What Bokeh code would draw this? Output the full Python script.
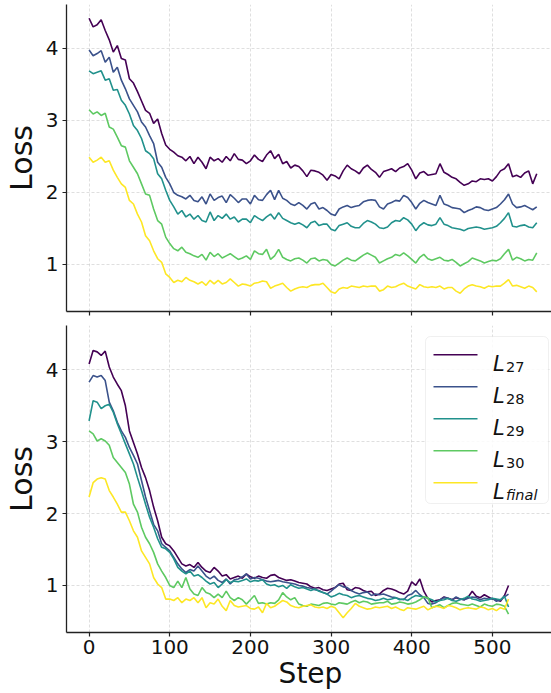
from bokeh.plotting import figure
from bokeh.layouts import column
from bokeh.models import FixedTicker, BoxAnnotation, Label, Range1d
from bokeh.embed import file_html
from bokeh.resources import INLINE

# ---------------- data ----------------
STEP_INTERVAL = 5
series_names = ["L27", "L28", "L29", "L30", "Lfinal"]
legend_main = ["L", "L", "L", "L", "L"]
legend_sub = ["27", "28", "29", "30", "final"]
colors = ["#440154", "#3b528b", "#21918c", "#5ec962", "#fde725"]
x_ticks = [0, 100, 200, 300, 400, 500]
y_ticks = [1, 2, 3, 4]

# top panel (steps 0..555)
top_L27 = [4.42, 4.30, 4.33, 4.40, 4.25, 4.12, 3.95, 4.04, 3.86, 3.84, 3.58, 3.52, 3.40, 3.27, 3.14, 3.10,
           2.96, 3.02, 2.82, 2.66, 2.60, 2.56, 2.51, 2.49, 2.44, 2.50, 2.40, 2.49, 2.42, 2.33, 2.49, 2.44,
           2.47, 2.42, 2.50, 2.44, 2.54, 2.46, 2.45, 2.40, 2.44, 2.52, 2.46, 2.43, 2.52, 2.58, 2.47, 2.53,
           2.40, 2.43, 2.34, 2.38, 2.36, 2.30, 2.22, 2.31, 2.30, 2.28, 2.24, 2.17, 2.25, 2.23, 2.19, 2.30,
           2.38, 2.33, 2.30, 2.26, 2.34, 2.38, 2.32, 2.28, 2.21, 2.29, 2.31, 2.33, 2.29, 2.34, 2.36, 2.40,
           2.31, 2.19, 2.27, 2.29, 2.24, 2.25, 2.26, 2.40, 2.28, 2.25, 2.21, 2.19, 2.14, 2.10, 2.12, 2.16,
           2.15, 2.19, 2.18, 2.19, 2.16, 2.22, 2.30, 2.33, 2.40, 2.22, 2.24, 2.21, 2.27, 2.30, 2.12, 2.26]
top_L28 = [3.98, 3.90, 3.93, 3.97, 3.81, 3.88, 3.67, 3.74, 3.56, 3.44, 3.30, 3.21, 3.12, 2.98, 2.91, 2.79,
           2.68, 2.42, 2.35, 2.21, 2.12, 2.00, 1.96, 1.94, 1.91, 1.96, 1.89, 1.87, 1.94, 1.84, 1.98, 1.89,
           1.93, 1.95, 1.86, 1.97, 1.92, 1.86, 1.91, 1.91, 1.84, 1.96, 1.90, 1.89, 1.97, 2.03, 1.90, 2.03,
           1.92, 1.89, 1.84, 1.82, 1.86, 1.82, 1.77, 1.84, 1.86, 1.77, 1.79, 1.75, 1.70, 1.68, 1.77, 1.80,
           1.82, 1.79, 1.81, 1.82, 1.87, 1.89, 1.90, 1.89, 1.80, 1.77, 1.84, 1.86, 1.89, 1.88, 1.96, 1.93,
           1.86, 1.77, 1.85, 1.89, 1.86, 1.84, 1.82, 1.96, 1.84, 1.82, 1.79, 1.78, 1.77, 1.72, 1.75, 1.77,
           1.80, 1.79, 1.76, 1.75, 1.77, 1.79, 1.84, 1.90, 1.98, 1.84, 1.79, 1.80, 1.82, 1.79, 1.76, 1.80]
top_L29 = [3.69, 3.65, 3.67, 3.69, 3.56, 3.58, 3.42, 3.43, 3.28, 3.21, 3.09, 2.93, 2.86, 2.75, 2.58, 2.54,
           2.47, 2.26, 2.19, 2.03, 1.89, 1.80, 1.70, 1.75, 1.66, 1.70, 1.63, 1.68, 1.61, 1.59, 1.73, 1.61,
           1.68, 1.64, 1.70, 1.63, 1.66, 1.59, 1.63, 1.63, 1.58, 1.68, 1.64, 1.61, 1.66, 1.70, 1.63, 1.72,
           1.64, 1.61, 1.58, 1.56, 1.58, 1.55, 1.51, 1.58, 1.60, 1.54, 1.56, 1.56, 1.49, 1.47, 1.54, 1.56,
           1.58, 1.53, 1.51, 1.51, 1.57, 1.61, 1.59, 1.56, 1.51, 1.50, 1.52, 1.58, 1.61, 1.60, 1.65, 1.62,
           1.56, 1.47, 1.54, 1.58, 1.55, 1.54, 1.56, 1.65, 1.56, 1.54, 1.51, 1.50, 1.49, 1.47, 1.50, 1.51,
           1.52, 1.51, 1.49, 1.50, 1.51, 1.53, 1.58, 1.64, 1.72, 1.53, 1.52, 1.54, 1.55, 1.52, 1.51, 1.58]
top_L30 = [3.15, 3.09, 3.12, 3.07, 3.10, 2.91, 2.88, 2.77, 2.65, 2.63, 2.44, 2.35, 2.26, 2.12, 1.98, 1.96,
           1.77, 1.61, 1.56, 1.38, 1.29, 1.22, 1.19, 1.24, 1.17, 1.15, 1.12, 1.10, 1.14, 1.06, 1.17, 1.11,
           1.15, 1.09, 1.12, 1.15, 1.11, 1.07, 1.09, 1.12, 1.07, 1.19, 1.15, 1.14, 1.21, 1.07, 1.12, 1.21,
           1.10, 1.07, 1.05, 1.08, 1.09, 1.06, 1.02, 1.08, 1.09, 1.05, 1.07, 1.06, 1.00, 0.98, 1.02, 1.06,
           1.09, 1.06, 1.05, 1.09, 1.13, 1.16, 1.13, 1.10, 1.02, 1.05, 1.08, 1.10, 1.14, 1.12, 1.16, 1.12,
           1.07, 1.02, 1.10, 1.14, 1.08, 1.06, 1.08, 1.10, 1.06, 1.05, 1.07, 1.03, 0.98, 1.01, 1.04, 1.09,
           1.07, 1.05, 1.02, 1.04, 1.06, 1.05, 1.08, 1.15, 1.21, 1.06, 1.10, 1.08, 1.05, 1.07, 1.06, 1.16]
top_Lfinal = [2.49, 2.42, 2.45, 2.49, 2.42, 2.44, 2.31, 2.21, 2.12, 2.07, 1.89, 1.84, 1.70, 1.59, 1.40, 1.33,
              1.19, 1.08, 1.03, 0.87, 0.82, 0.75, 0.78, 0.76, 0.82, 0.78, 0.76, 0.73, 0.76, 0.71, 0.78, 0.73,
              0.78, 0.73, 0.75, 0.80, 0.75, 0.70, 0.73, 0.72, 0.70, 0.74, 0.75, 0.77, 0.76, 0.67, 0.70, 0.72,
              0.74, 0.68, 0.63, 0.66, 0.68, 0.69, 0.68, 0.71, 0.72, 0.72, 0.74, 0.68, 0.62, 0.60, 0.66, 0.68,
              0.67, 0.70, 0.69, 0.68, 0.70, 0.69, 0.70, 0.70, 0.63, 0.65, 0.70, 0.68, 0.69, 0.72, 0.74, 0.70,
              0.68, 0.66, 0.72, 0.69, 0.68, 0.69, 0.68, 0.70, 0.66, 0.68, 0.68, 0.63, 0.60, 0.66, 0.70, 0.72,
              0.70, 0.69, 0.67, 0.70, 0.69, 0.70, 0.70, 0.74, 0.79, 0.70, 0.71, 0.69, 0.67, 0.70, 0.68, 0.62]

# bottom panel (steps 0..520)
bot_L27 = [4.08, 4.27, 4.25, 4.20, 4.26, 4.04, 3.90, 3.80, 3.71, 3.50, 3.15, 2.99, 2.83, 2.64, 2.50, 2.32,
           2.09, 1.90, 1.67, 1.58, 1.55, 1.48, 1.39, 1.30, 1.27, 1.29, 1.25, 1.32, 1.25, 1.20, 1.18, 1.25,
           1.20, 1.13, 1.15, 1.09, 1.11, 1.13, 1.10, 1.16, 1.12, 1.10, 1.13, 1.11, 1.10, 1.14, 1.15, 1.11,
           1.09, 1.07, 1.08, 1.06, 1.04, 1.03, 1.02, 0.98, 0.96, 0.97, 0.94, 0.93, 0.95, 0.97, 1.02, 1.03,
           0.94, 0.93, 0.97, 0.96, 0.93, 0.91, 0.92, 0.86, 0.88, 0.93, 0.96, 0.95, 0.93, 0.90, 0.88, 0.92,
           1.05, 1.00, 1.09, 0.92, 0.82, 0.77, 0.79, 0.80, 0.84, 0.82, 0.80, 0.83, 0.81, 0.80, 0.84, 0.92,
           0.85, 0.83, 0.87, 0.84, 0.81, 0.80, 0.78, 0.86, 1.00]
bot_L28 = [3.83, 3.92, 3.90, 3.92, 3.85, 3.55, 3.43, 3.27, 3.15, 3.06, 2.92, 2.81, 2.69, 2.46, 2.23, 2.04,
           1.85, 1.76, 1.58, 1.53, 1.48, 1.39, 1.30, 1.23, 1.18, 1.22, 1.20, 1.27, 1.20, 1.13, 1.09, 1.13,
           1.07, 1.04, 1.09, 1.02, 1.08, 1.09, 1.12, 1.16, 1.09, 1.11, 1.10, 1.08, 1.06, 1.05, 1.06, 1.07,
           1.05, 1.04, 1.03, 1.02, 1.00, 0.99, 0.97, 0.96, 0.94, 0.93, 0.90, 0.88, 0.92, 0.97, 1.01, 0.98,
           0.97, 0.93, 0.90, 0.88, 0.90, 0.91, 0.86, 0.88, 0.87, 0.88, 0.86, 0.84, 0.83, 0.81, 0.80, 0.86,
           0.88, 0.93, 0.87, 0.83, 0.75, 0.74, 0.76, 0.80, 0.83, 0.82, 0.80, 0.84, 0.81, 0.80, 0.82, 0.84,
           0.83, 0.80, 0.82, 0.81, 0.82, 0.78, 0.80, 0.84, 0.88]
bot_L29 = [3.29, 3.57, 3.55, 3.46, 3.50, 3.52, 3.41, 3.25, 3.11, 2.97, 2.83, 2.69, 2.50, 2.32, 2.13, 1.95,
           1.81, 1.65, 1.53, 1.51, 1.46, 1.37, 1.25, 1.20, 1.16, 1.20, 1.13, 1.15, 1.11, 1.06, 1.02, 1.04,
           0.97, 1.02, 1.08, 1.04, 1.06, 1.05, 1.07, 1.09, 1.05, 1.07, 1.06, 1.08, 1.02, 1.00, 1.01, 0.98,
           1.00, 0.96, 1.01, 0.98, 0.96, 0.97, 0.95, 0.93, 0.95, 0.92, 0.90, 0.88, 0.84, 0.86, 0.89, 0.87,
           0.86, 0.83, 0.85, 0.86, 0.84, 0.82, 0.81, 0.79, 0.80, 0.82, 0.80, 0.81, 0.83, 0.80, 0.81, 0.79,
           0.83, 0.86, 0.85, 0.84, 0.82, 0.80, 0.77, 0.79, 0.80, 0.82, 0.79, 0.78, 0.80, 0.82, 0.85, 0.81,
           0.80, 0.78, 0.79, 0.80, 0.82, 0.81, 0.80, 0.85, 0.70]
bot_L30 = [3.15, 3.11, 3.01, 3.04, 3.01, 2.95, 2.78, 2.71, 2.64, 2.57, 2.41, 2.13, 2.02, 1.81, 1.67, 1.58,
           1.46, 1.30, 1.20, 1.11, 1.00, 0.97, 1.06, 0.97, 1.11, 0.95, 0.88, 0.86, 0.97, 0.90, 0.88, 0.83,
           0.88, 0.83, 0.92, 0.83, 0.79, 0.83, 0.80, 0.74, 0.80, 0.86, 0.75, 0.76, 0.74, 0.76, 0.75, 0.80,
           0.90, 0.84, 0.80, 0.83, 0.74, 0.72, 0.71, 0.74, 0.73, 0.72, 0.75, 0.76, 0.74, 0.73, 0.76, 0.75,
           0.74, 0.77, 0.79, 0.76, 0.78, 0.77, 0.74, 0.75, 0.76, 0.76, 0.78, 0.74, 0.75, 0.77, 0.76, 0.74,
           0.75, 0.77, 0.80, 0.84, 0.83, 0.69, 0.71, 0.73, 0.69, 0.72, 0.75, 0.76, 0.74, 0.73, 0.72, 0.74,
           0.72, 0.70, 0.74, 0.72, 0.71, 0.74, 0.73, 0.71, 0.60]
bot_Lfinal = [2.23, 2.43, 2.48, 2.50, 2.48, 2.32, 2.23, 2.13, 2.02, 2.02, 1.90, 1.76, 1.67, 1.48, 1.39, 1.30,
              1.11, 1.02, 0.97, 0.81, 0.81, 0.79, 0.83, 0.76, 0.81, 0.79, 0.83, 0.76, 0.83, 0.69, 0.76, 0.74,
              0.81, 0.71, 0.65, 0.79, 0.72, 0.70, 0.71, 0.72, 0.68, 0.67, 0.70, 0.62, 0.75, 0.69, 0.71, 0.75,
              0.79, 0.77, 0.72, 0.70, 0.69, 0.71, 0.72, 0.73, 0.70, 0.69, 0.70, 0.68, 0.71, 0.69, 0.62, 0.55,
              0.62, 0.68, 0.75, 0.71, 0.69, 0.67, 0.68, 0.70, 0.69, 0.70, 0.71, 0.68, 0.70, 0.67, 0.65, 0.69,
              0.68, 0.67, 0.69, 0.71, 0.66, 0.69, 0.71, 0.70, 0.68, 0.72, 0.71, 0.69, 0.66, 0.68, 0.69, 0.68,
              0.67, 0.70, 0.69, 0.66, 0.68, 0.65, 0.69, 0.67, 0.81]

top_series = [top_L27, top_L28, top_L29, top_L30, top_Lfinal]
bot_series = [bot_L27, bot_L28, bot_L29, bot_L30, bot_Lfinal]

# ---------------- layout ----------------
FONT = "DejaVu Sans"
FRAME_W, FRAME_H = 488, 307
x_range = Range1d(-28, 577)
TOP_Y = (0.347, 4.611)
BOT_Y = (0.345, 4.617)


def style(p):
    p.outline_line_color = None
    p.background_fill_color = "white"
    for ax in (p.xaxis[0], p.yaxis[0]):
        ax.axis_line_color = "#222222"
        ax.axis_line_width = 1.3
        ax.major_tick_line_color = "#222222"
        ax.major_tick_line_width = 1.2
        ax.major_tick_out = 4
        ax.major_tick_in = 0
        ax.minor_tick_out = 0
        ax.minor_tick_in = 0
        ax.major_label_text_font = FONT
        ax.major_label_text_font_size = "20px"
        ax.major_label_text_color = "#111111"
        ax.axis_label_text_font = FONT
        ax.axis_label_text_font_style = "normal"
        ax.axis_label_text_color = "#111111"
    p.xaxis.ticker = FixedTicker(ticks=x_ticks)
    p.yaxis.ticker = FixedTicker(ticks=y_ticks)
    p.yaxis.major_label_standoff = 4
    p.yaxis.axis_label = "Loss"
    p.yaxis.axis_label_text_font_size = "30px"
    p.yaxis.axis_label_standoff = 4
    for g in (p.xgrid[0], p.ygrid[0]):
        g.grid_line_color = "#bbbbbb"
        g.grid_line_alpha = 0.6
        g.grid_line_dash = "3 2"
        g.grid_line_width = 0.8
    p.xgrid.ticker = FixedTicker(ticks=x_ticks)
    p.ygrid.ticker = FixedTicker(ticks=y_ticks)


def draw(p, series):
    for vals, c, name in zip(series, colors, series_names):
        steps = [i * STEP_INTERVAL for i in range(len(vals))]
        p.line(steps, vals, line_color=c, line_width=1.6, name=name)


top = figure(frame_width=FRAME_W, frame_height=FRAME_H, x_range=x_range,
             y_range=Range1d(*TOP_Y), output_backend="svg", toolbar_location=None,
             min_border_left=63, min_border_right=0, min_border_top=4, min_border_bottom=14)
style(top)
# shared x axis: tick marks only, no tick labels drawn in the upper panel
top.xaxis.major_label_text_font_size = "0px"
top.xaxis.major_label_text_color = None
top.xaxis.major_label_standoff = 0
draw(top, top_series)

bot = figure(frame_width=FRAME_W, frame_height=FRAME_H, x_range=x_range,
             y_range=Range1d(*BOT_Y), output_backend="svg", toolbar_location=None,
             min_border_left=63, min_border_right=0, min_border_top=0, min_border_bottom=10)
style(bot)
bot.xaxis.axis_label = "Step"
bot.xaxis.axis_label_text_font_size = "28px"
bot.xaxis.major_label_standoff = 3
bot.xaxis.axis_label_standoff = 0
draw(bot, bot_series)

# ---------------- custom legend (pixel layout -> data units of the bottom frame) ----------------
KX = FRAME_W / (x_range.end - x_range.start)
KY = FRAME_H / (BOT_Y[1] - BOT_Y[0])
FRAME_LEFT, FRAME_TOP = 63, 325


def dx(px):
    return x_range.start + (px - FRAME_LEFT) / KX


def dy(py):
    return BOT_Y[1] - (py - FRAME_TOP) / KY


bot.add_layout(BoxAnnotation(left=dx(422), right=dx(545), top=dy(336), bottom=dy(503),
                             fill_color="white", fill_alpha=0.85, line_color="#cccccc",
                             line_width=1, border_radius=5, level="annotation"))
for i, (c, main, sub) in enumerate(zip(colors, legend_main, legend_sub)):
    yl = 354.3 + 32 * i
    bot.segment(x0=[dx(430)], y0=[dy(yl)], x1=[dx(474)], y1=[dy(yl)], line_color=c,
                line_width=1.6, level="overlay")
    bot.add_layout(Label(x=dx(489.5), y=dy(363.3 + 32 * i), text=main, text_font=FONT,
                         text_font_size="21px", text_font_style="italic", text_color="#111111",
                         text_align="left", text_baseline="alphabetic", level="overlay"))
    bot.add_layout(Label(x=dx(502.5), y=dy(366.3 + 32 * i), text=sub, text_font=FONT,
                         text_font_size="14.5px",
                         text_font_style="italic" if sub == "final" else "normal",
                         text_color="#111111", text_align="left", text_baseline="alphabetic",
                         level="overlay"))

layout = column(top, bot, spacing=0)
open("out.html", "w").write(file_html(layout, INLINE))
